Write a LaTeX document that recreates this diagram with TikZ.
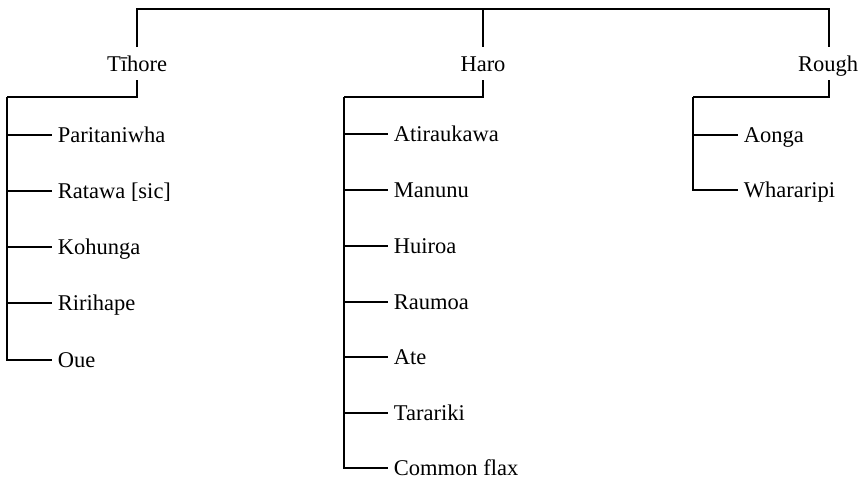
\documentclass[tikz,border=0pt]{standalone}
\usepackage{fontspec}
\setmainfont{Liberation Serif}
\begin{document}
\begin{tikzpicture}[x=1pt,y=-1pt,line width=1.8pt,
  hdr/.style={font=\fontsize{22.5}{26}\selectfont,inner sep=0pt,anchor=base},
  leaf/.style={font=\fontsize{22.5}{26}\selectfont,inner xsep=5pt,inner ysep=0pt,
    text height=15pt,text depth=0pt,anchor=west}]
\useasboundingbox (0,0) rectangle (865,479);
% headers
\node[hdr] (tih) at (137,71) {Tīhore};
\node[hdr] (haro) at (483,71) {Haro};
\node[hdr] (rough) at (828,71) {Rough};
% junction coordinates
\coordinate (tl) at (137,9);
\coordinate (tm) at (483,9);
\coordinate (tr) at (829,9);
\coordinate (tihup) at (137,47);
\coordinate (harup) at (483,47);
\coordinate (rouup) at (829,47);
\coordinate (tihdn) at (137,80);
\coordinate (hardn) at (483,80);
\coordinate (roudn) at (829,80);
\coordinate (tihj) at (137,97);
\coordinate (harj) at (483,97);
\coordinate (rouj) at (829,97);
\coordinate (tihv) at (7,97);
\coordinate (harv) at (344,97);
\coordinate (rouv) at (693,97);
% top bracket
\draw (tihup) -- (tl) -- (tr) -- (rouup);
\draw (tm) -- (harup);
\draw (tihdn) -- (tihj) -- (tihv);
\draw (hardn) -- (harj) -- (harv);
\draw (roudn) -- (rouj) -- (rouv);
% Tihore leaves
\foreach \t/\y [count=\i from 0] in {Paritaniwha/135,Ratawa [sic]/191,Kohunga/247,Ririhape/303,Oue/360}{
  \node[leaf] (t\i) at (52,\y) {\t};
}
\draw (tihv) |- (t4.west);
\foreach \i in {0,...,3}{ \draw (tihv |- t\i.west) -- (t\i.west); }
% Haro leaves
\foreach \t/\y [count=\i from 0] in {Atiraukawa/134,Manunu/190,Huiroa/246,Raumoa/302,Ate/357,Tarariki/413,Common flax/468}{
  \node[leaf] (h\i) at (388,\y) {\t};
}
\draw (harv) |- (h6.west);
\foreach \i in {0,...,5}{ \draw (harv |- h\i.west) -- (h\i.west); }
% Rough leaves
\node[leaf] (r0) at (738,135) {Aonga};
\node[leaf] (r1) at (738,190) {Whararipi};
\draw (rouv) |- (r1.west);
\draw (rouv |- r0.west) -- (r0.west);
\end{tikzpicture}
\end{document}
